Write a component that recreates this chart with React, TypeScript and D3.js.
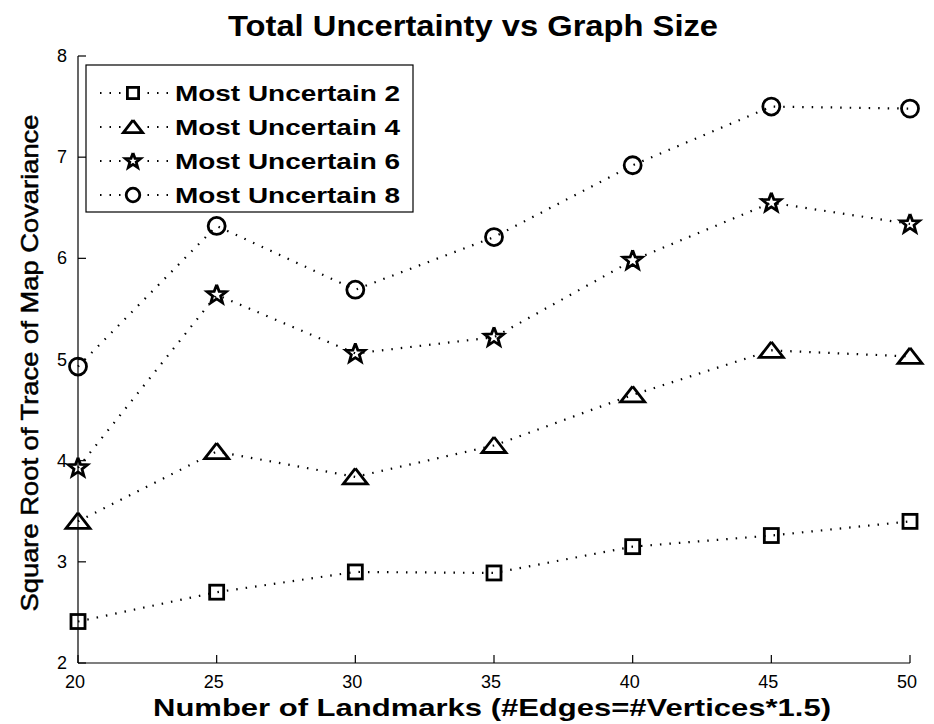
import React from "react";
import * as d3 from "d3";

const landmarks = [20, 25, 30, 35, 40, 45, 50];
const mu2 = [2.41, 2.7, 2.9, 2.89, 3.15, 3.26, 3.4];
const mu4 = [3.4, 4.09, 3.84, 4.15, 4.65, 5.09, 5.03];
const mu6 = [3.93, 5.64, 5.06, 5.22, 5.98, 6.55, 6.34];
const mu8 = [4.93, 6.32, 5.69, 6.21, 6.92, 7.5, 7.48];
const seriesNames = ["Most Uncertain 2", "Most Uncertain 4", "Most Uncertain 6", "Most Uncertain 8"];
const seriesMarkers = ["square", "triangle", "star", "circle"];
const xTicks = [20, 25, 30, 35, 40, 45, 50];
const yTicks = [2, 3, 4, 5, 6, 7, 8];

const W = 934;
const H = 724;
const FONT = "'Liberation Sans', Arial, Helvetica, sans-serif";

function starPath(R: number, r: number) {
  const pts: [number, number][] = [];
  for (let i = 0; i < 10; i++) {
    const a = -Math.PI / 2 + (i * Math.PI) / 5;
    const rad = i % 2 === 0 ? R : r;
    pts.push([rad * Math.cos(a), rad * Math.sin(a)]);
  }
  return d3.line()(pts.concat([pts[0]])) as string;
}

function Marker({ kind, x, y, s }: { kind: string; x: number; y: number; s: number }) {
  const common = { fill: "none", stroke: "#000", strokeWidth: 2.8 };
  if (kind === "square") {
    const h = 7 * s;
    return <rect x={x - h} y={y - h} width={2 * h} height={2 * h} {...common} />;
  }
  if (kind === "triangle") {
    const p = d3.line()([
      [x, y - 8.5 * s],
      [x + 12 * s, y + 7 * s],
      [x - 12 * s, y + 7 * s],
      [x, y - 8.5 * s],
    ]) as string;
    return <path d={p} {...common} strokeLinejoin="miter" />;
  }
  if (kind === "star") {
    return <path d={starPath(10 * s, 4.2 * s)} transform={`translate(${x},${y})`} {...common} />;
  }
  return <circle cx={x} cy={y} r={8.5 * s} {...common} />;
}

export default function App() {
  const x = d3.scaleLinear().domain([20, 50]).range([78, 910]);
  const y = d3.scaleLinear().domain([2, 8]).range([663, 56]);
  const data = [mu2, mu4, mu6, mu8];
  const line = d3
    .line<number>()
    .x((_, i) => x(landmarks[i]))
    .y((d) => y(d));

  const legendY = [93, 127, 161, 195];

  return (
    <svg
      width={W}
      height={H}
      style={{ position: "absolute", left: 0, top: 0, background: "#fff" }}
      fontFamily={FONT}
    >
      <rect x={0} y={0} width={W} height={H} fill="#fff" />
      {/* title */}
      <text
        x={473}
        y={36}
        textAnchor="middle"
        fontWeight="bold"
        fontSize={30}
        textLength={490}
        lengthAdjust="spacingAndGlyphs"
      >
        Total Uncertainty vs Graph Size
      </text>

      {/* axes */}
      <line x1={x(20)} x2={x(20)} y1={y(8)} y2={y(2)} stroke="#000" strokeWidth={1.2} />
      <line x1={x(20)} x2={x(50)} y1={y(2)} y2={y(2)} stroke="#000" strokeWidth={1.2} />
      {yTicks.map((t) => (
        <g key={"y" + t}>
          <line x1={x(20)} x2={x(20) + 8} y1={y(t)} y2={y(t)} stroke="#000" strokeWidth={1.2} />
          <text x={67} y={y(t) + 6} textAnchor="end" fontSize={18}>
            {t}
          </text>
        </g>
      ))}
      {xTicks.map((t) => (
        <g key={"x" + t}>
          <line x1={x(t)} x2={x(t)} y1={y(2)} y2={y(2) - 8} stroke="#000" strokeWidth={1.2} />
          <text x={x(t) - 3} y={688} textAnchor="middle" fontSize={18}>
            {t}
          </text>
        </g>
      ))}

      {/* axis labels */}
      <text
        x={492}
        y={716}
        textAnchor="middle"
        fontWeight="bold"
        fontSize={24}
        textLength={678}
        lengthAdjust="spacingAndGlyphs"
      >
        Number of Landmarks (#Edges=#Vertices*1.5)
      </text>
      <text
        transform={`translate(38,${363}) rotate(-90)`}
        textAnchor="middle"
        fontSize={24}
        stroke="#000"
        strokeWidth={0.5}
        textLength={497}
        lengthAdjust="spacingAndGlyphs"
      >
        Square Root of Trace of Map Covariance
      </text>

      {/* series */}
      {data.map((vals, si) => (
        <g key={"s" + si}>
          <path
            d={line(vals) as string}
            fill="none"
            stroke="#000"
            strokeWidth={2.2}
            strokeDasharray="1.5 8"
          />
          {vals.map((v, i) => (
            <Marker key={i} kind={seriesMarkers[si]} x={x(landmarks[i])} y={y(v)} s={1} />
          ))}
        </g>
      ))}

      {/* legend */}
      <rect x={86} y={65} width={327} height={147} fill="#fff" stroke="#000" strokeWidth={1.2} />
      {seriesNames.map((name, i) => (
        <g key={"l" + i}>
          <line
            x1={100}
            x2={170}
            y1={legendY[i]}
            y2={legendY[i]}
            stroke="#000"
            strokeWidth={2.2}
            strokeDasharray="1.5 8"
          />
          <rect x={121} y={legendY[i] - 10} width={24} height={20} fill="#fff" />
          <Marker kind={seriesMarkers[i]} x={133} y={legendY[i]} s={0.8} />
          <text
            x={175}
            y={legendY[i] + 8}
            fontWeight="bold"
            fontSize={22}
            textLength={225}
            lengthAdjust="spacingAndGlyphs"
          >
            {name}
          </text>
        </g>
      ))}
    </svg>
  );
}
